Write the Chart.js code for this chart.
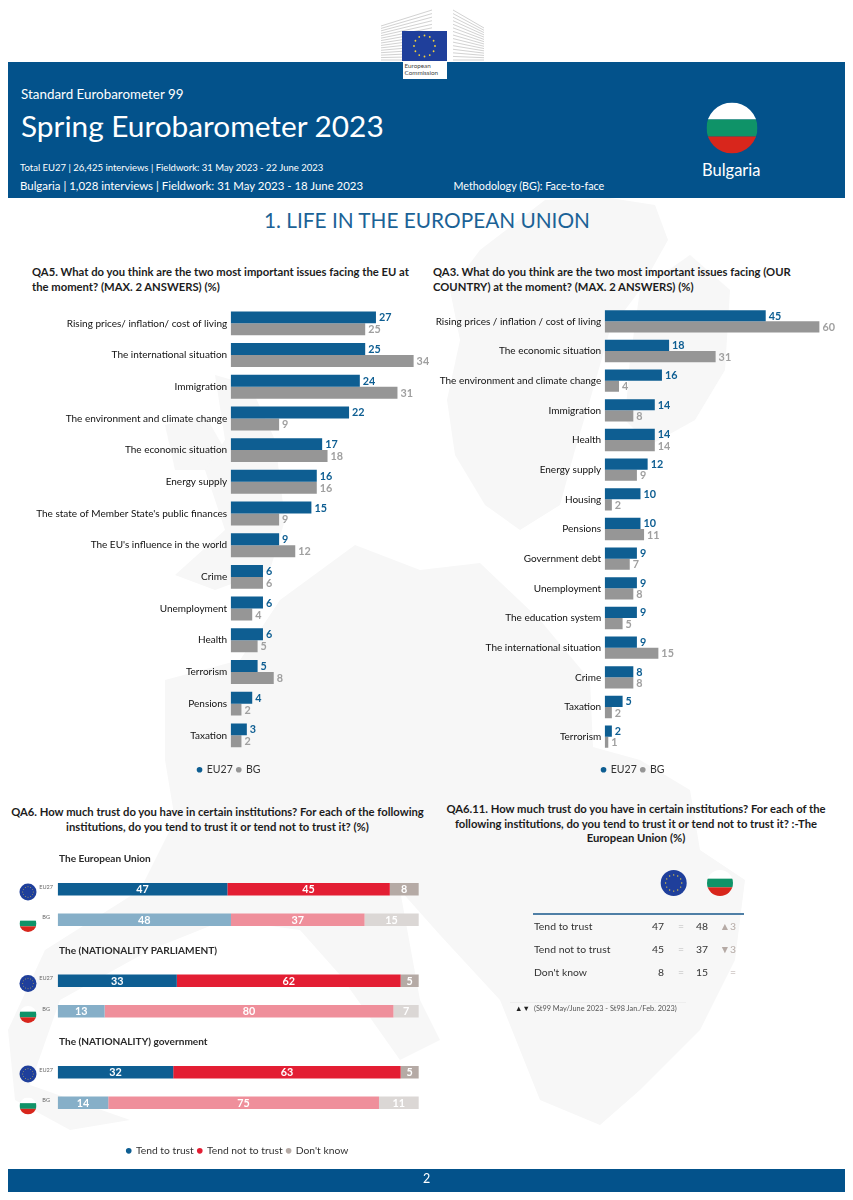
<!DOCTYPE html>
<html>
<head>
<meta charset="utf-8">
<title>Spring Eurobarometer 2023 - Bulgaria</title>
<script src="https://cdn.jsdelivr.net/npm/chart.js@4/dist/chart.umd.min.js"></script>
<style>
  html, body { margin: 0; padding: 0; background: #fff; overflow: hidden; }
  #page { position: relative; width: 853px; height: 1200px; overflow: hidden; font-family: Lato, sans-serif; color: #222; }
  #page > * { position: absolute; }
  canvas { display: block; }
  .band { left: 8px; width: 836.5px; background: #03528b; }
  .w { color: #fff; white-space: nowrap; line-height: 1; }
  .q { font-weight: 700; font-size: 11.25px; line-height: 14.6px; color: #1c1c1c; }
  .c { text-align: center; }
  .t { white-space: nowrap; line-height: 1; font-size: 10.4px; color: #333; }
</style>
</head>
<body>
<div id="page">
  <svg id="map" width="853" height="1200" style="left:0;top:0"></svg>
  <svg id="logo" width="110" height="62" style="left:376px;top:0"></svg>

  <div class="band" style="top:61.5px;height:136px"></div>
  <div style="left:402px;top:31px;width:45px;height:30px;background:#1f3f9b" id="logoFlag"></div>
  <div style="left:402.5px;top:61px;width:44px;height:18px;background:#fff;font-size:6.3px;line-height:6.8px;padding:2px 0 0 2px;box-sizing:border-box;color:#444">European<br>Commission</div>

  <div class="w" style="left:21px;top:87.5px;font-size:13.4px">Standard Eurobarometer 99</div>
  <div class="w" style="left:21px;top:110.5px;font-size:29.8px">Spring Eurobarometer 2023</div>
  <div class="w" style="left:20px;top:163px;font-size:9.5px">Total EU27 | 26,425 interviews | Fieldwork: 31 May 2023 - 22 June 2023</div>
  <div class="w" style="left:20px;top:180px;font-size:11.43px">Bulgaria | 1,028 interviews | Fieldwork: 31 May 2023 - 18 June 2023</div>
  <div class="w" style="left:453.5px;top:180.5px;font-size:10.75px">Methodology (BG): Face-to-face</div>
  <svg id="flagTop" width="54" height="54" style="left:705px;top:101px"></svg>
  <div class="w" style="left:702px;top:162px;font-size:16.5px">Bulgaria</div>

  <div style="left:0;width:853px;top:206.5px;font-size:20.8px;line-height:26px;color:#1b6296;text-align:center;text-indent:1px">1. LIFE IN THE EUROPEAN UNION</div>

  <div class="q" style="left:32px;top:265px;width:390px">QA5. What do you think are the two most important issues facing the EU at the moment? (MAX. 2 ANSWERS) (%)</div>
  <div class="q" style="left:433px;top:265px;width:390px">QA3. What do you think are the two most important issues facing (OUR COUNTRY) at the moment? (MAX. 2 ANSWERS) (%)</div>
  <div class="q c" style="left:5px;top:805px;width:425px">QA6. How much trust do you have in certain institutions? For each of the following<br>institutions, do you tend to trust it or tend not to trust it? (%)</div>
  <div class="q c" style="left:436px;top:802px;width:400px">QA6.11. How much trust do you have in certain institutions? For each of the<br>following institutions, do you tend to trust it or tend not to trust it? :-The<br>European Union (%)</div>

  <canvas id="issuesEu" width="458" height="487" style="left:0;top:298px"></canvas>
  <canvas id="issuesBg" width="420" height="488" style="left:423px;top:297px"></canvas>
  <canvas id="trust" width="475" height="326" style="left:0;top:840px"></canvas>

  <div id="flags" style="left:0;top:0"></div>
  <div id="table" style="left:0;top:0"></div>

  <div class="band" style="top:1168.5px;height:23px"></div>
  <div class="w" style="left:0;width:853px;top:1173px;font-size:12.5px;text-align:center">2</div>
</div>

<script>
// QA5
const euIssues = ["Rising prices/ inflation/ cost of living", "The international situation", "Immigration",
  "The environment and climate change", "The economic situation", "Energy supply",
  "The state of Member State's public finances", "The EU's influence in the world", "Crime",
  "Unemployment", "Health", "Terrorism", "Pensions", "Taxation"];
const euIssuesEU27 = [27, 25, 24, 22, 17, 16, 15, 9, 6, 6, 6, 5, 4, 3];
const euIssuesBG = [25, 34, 31, 9, 18, 16, 9, 12, 6, 4, 5, 8, 2, 2];

// QA3
const bgIssues = ["Rising prices / inflation / cost of living", "The economic situation",
  "The environment and climate change", "Immigration", "Health", "Energy supply", "Housing", "Pensions",
  "Government debt", "Unemployment", "The education system", "The international situation", "Crime",
  "Taxation", "Terrorism"];
const bgIssuesEU27 = [45, 18, 16, 14, 14, 12, 10, 10, 9, 9, 9, 9, 8, 5, 2];
const bgIssuesBG = [60, 31, 4, 8, 14, 9, 2, 11, 7, 8, 5, 15, 8, 2, 1];

// QA6, the null rows are the institution headings
const trustRows = ["The European Union", "EU27", "BG", "The (NATIONALITY PARLIAMENT)", "EU27", "BG",
  "The (NATIONALITY) government", "EU27", "BG"];
const tendTrust = [null, 47, 48, null, 33, 13, null, 32, 14];
const tendNotTrust = [null, 45, 37, null, 62, 80, null, 63, 75];
const dontKnow = [null, 8, 15, null, 5, 7, null, 5, 11];

// QA6.11 table
const tableLabels = ["Tend to trust", "Tend not to trust", "Don't know"];
const tableEU27 = [47, 45, 8];
const tableBG = [48, 37, 15];
const tableBGChange = ["▲3", "▼3", "="];

const BLUE = "#0e5e92", GREY = "#969696";

Chart.defaults.font.family = "Lato, sans-serif";
Chart.defaults.animation = false;

// value written at the end of each bar (or inside it when stacked)
const barValues = {
  id: "barValues",
  afterDatasetsDraw(chart, args, opts) {
    const ctx = chart.ctx;
    ctx.save();
    ctx.textBaseline = "middle";
    ctx.font = "bold " + opts.size + "px Lato, sans-serif";
    chart.data.datasets.forEach((ds, d) => {
      chart.getDatasetMeta(d).data.forEach((bar, i) => {
        const v = ds.data[i];
        if (v === null) return;
        if (opts.inside) {
          ctx.textAlign = "center";
          ctx.fillStyle = "#fff";
          ctx.fillText(v, (bar.x + bar.base) / 2, bar.y + 0.5);
        } else {
          ctx.textAlign = "left";
          ctx.fillStyle = ds.labelColor;
          ctx.fillText(v, bar.x + 3, bar.y + 0.5);
        }
      });
    });
    ctx.restore();
  }
};

// institution headings and the tiny EU27 / BG marks of the trust chart
const rowHeadings = {
  id: "rowHeadings",
  afterDraw(chart) {
    const ctx = chart.ctx, y = chart.scales.y;
    ctx.save();
    ctx.textBaseline = "middle";
    trustRows.forEach((name, i) => {
      const py = y.getPixelForValue(i);
      if (tendTrust[i] === null) {
        ctx.font = "bold 10.1px Lato, sans-serif";
        ctx.fillStyle = "#2a2a2a";
        ctx.textAlign = "left";
        ctx.fillText(name, 59, py);
      } else {
        ctx.font = "5.6px Lato, sans-serif";
        ctx.fillStyle = "#666";
        ctx.textAlign = "right";
        ctx.fillText(name, name === "BG" ? 50 : 53, py - 2.5);
      }
    });
    ctx.restore();
  }
};

function issuesChart(id, labels, eu27, bg, axisWidth, xMax, gap) {
  return new Chart(document.getElementById(id), {
    type: "bar",
    data: {
      labels: labels,
      datasets: [
        { label: "EU27", data: eu27, backgroundColor: BLUE, labelColor: BLUE, categoryPercentage: 0.755, barPercentage: 1 },
        { label: "BG", data: bg, backgroundColor: GREY, labelColor: "#a0a0a0", categoryPercentage: 0.755, barPercentage: 1 }
      ]
    },
    options: {
      indexAxis: "y",
      responsive: false,
      scales: {
        x: {
          min: 0, max: xMax,
          grid: { display: false }, border: { display: false },
          ticks: { display: false },
          afterFit(s) { s.height = gap; }
        },
        y: {
          grid: { display: false, drawTicks: false }, border: { display: false },
          ticks: { color: "#111", font: { size: 10 }, padding: 3.5, autoSkip: false },
          afterFit(s) { s.width = axisWidth; }
        }
      },
      plugins: {
        tooltip: { enabled: false },
        barValues: { size: 10.8 },
        legend: {
          position: "bottom",
          labels: { usePointStyle: true, boxWidth: 4, boxHeight: 4, padding: 4, color: "#333", font: { size: 10.5 } }
        }
      }
    },
    plugins: [barValues]
  });
}

issuesChart("issuesEu", euIssues, euIssuesEU27, euIssuesBG, 230.7, 42.25, 9.3);
issuesChart("issuesBg", bgIssues, bgIssuesEU27, bgIssuesBG, 181.7, 66.6, 9);

// BG rows use the same colours, paler
const rowColor = (dark, pale) => c => (trustRows[c.dataIndex] === "BG" ? pale : dark);
const trustColors = [["#0e5e92", "#86afc8"], ["#e31e33", "#ef8f9b"], ["#b5aaa5", "#dbd7d5"]];

new Chart(document.getElementById("trust"), {
  type: "bar",
  data: {
    labels: trustRows,
    datasets: [
      { label: "Tend to trust", data: tendTrust, backgroundColor: rowColor(...trustColors[0]) },
      { label: "Tend not to trust", data: tendNotTrust, backgroundColor: rowColor(...trustColors[1]) },
      { label: "Don't know", data: dontKnow, backgroundColor: rowColor(...trustColors[2]) }
    ]
  },
  options: {
    indexAxis: "y",
    responsive: false,
    datasets: { bar: { categoryPercentage: 0.417, barPercentage: 1 } },
    layout: { padding: { top: 3.5 } },
    scales: {
      x: {
        stacked: true, min: 0, max: 115.6,
        grid: { display: false }, border: { display: false },
        ticks: { display: false },
        afterFit(s) { s.height = 23.7; }
      },
      y: {
        stacked: true,
        grid: { display: false, drawTicks: false }, border: { display: false },
        ticks: { display: false },
        afterFit(s) { s.width = 57.7; }
      }
    },
    plugins: {
      tooltip: { enabled: false },
      barValues: { size: 10.8, inside: true },
      legend: {
        position: "bottom",
        labels: {
          usePointStyle: true, boxWidth: 4, boxHeight: 4, padding: 4, color: "#333", font: { size: 10.3 },
          generateLabels: chart => chart.data.datasets.map((ds, i) => ({
            text: ds.label, fillStyle: trustColors[i][0], strokeStyle: trustColors[i][0],
            lineWidth: 0, pointStyle: "circle", datasetIndex: i, fontColor: "#333"
          }))
        }
      }
    }
  },
  plugins: [barValues, rowHeadings]
});

// --- decoration: flags, logo, faint map ---
function euFlag(cx, cy, r) {
  let s = `<circle cx="${cx}" cy="${cy}" r="${r}" fill="#1f3f9b"/>`;
  for (let i = 0; i < 12; i++) {
    const a = i * Math.PI / 6;
    s += `<circle cx="${cx + Math.cos(a) * r * 0.62}" cy="${cy + Math.sin(a) * r * 0.62}" r="${Math.max(r * 0.05, 0.45)}" fill="#f5d43a"/>`;
  }
  return s;
}
function bgFlag(cx, cy, r, white) {
  const id = "c" + Math.round(cx) + "_" + Math.round(cy);
  const h = 2 * r / 3, t = cy - r;
  return `<clipPath id="${id}"><circle cx="${cx}" cy="${cy}" r="${r}"/></clipPath><g clip-path="url(#${id})">` +
    `<rect x="${cx - r}" y="${t}" width="${2 * r}" height="${h}" fill="${white}"/>` +
    `<rect x="${cx - r}" y="${t + h}" width="${2 * r}" height="${h}" fill="#0f9368"/>` +
    `<rect x="${cx - r}" y="${t + 2 * h}" width="${2 * r}" height="${h}" fill="#d8261c"/></g>`;
}
document.getElementById("flagTop").innerHTML = bgFlag(27, 27, 25.5, "#fff");

let flagSvg = "";
[892, 983.5, 1074].forEach(y => { flagSvg += euFlag(28, y, 8.5); });
[923.5, 1014.5, 1106].forEach(y => { flagSvg += bgFlag(28, y, 8.5, "#fff"); });
flagSvg += euFlag(673.7, 883, 13) + bgFlag(720, 883, 13, "#fff");
document.getElementById("flags").innerHTML = `<svg width="853" height="1200" style="position:absolute;left:0;top:0">${flagSvg}</svg>`;

let starDots = "";
for (let i = 0; i < 12; i++) {
  const a = i * Math.PI / 6;
  starDots += `<circle cx="${22.5 + Math.cos(a) * 10.5}" cy="${15 + Math.sin(a) * 10.5}" r="0.9" fill="#f5d43a"/>`;
}
document.getElementById("logoFlag").innerHTML = `<svg width="45" height="30">${starDots}</svg>`;

let logoLines = "";
for (let i = 0; i < 15; i++) {
  const k = i / 14;
  logoLines += `<line x1="5" y1="${26 + 34 * k}" x2="56" y2="${10 + 50 * k}" stroke="#d2d2d2" stroke-width="1"/>`;
  logoLines += `<line x1="77" y1="${10 + 50 * k}" x2="108" y2="${28 + 32 * k}" stroke="#d2d2d2" stroke-width="1"/>`;
}
document.getElementById("logo").innerHTML = logoLines;

const land = [
  "M545,200 L610,198 L655,205 L668,240 L640,290 L610,330 L590,400 L575,450 L560,505 L520,530 L485,505 L455,455 L447,400 L460,340 L450,290 L480,250 Z",
  "M640,290 L690,255 L730,290 L725,370 L695,420 L650,445 L625,420 L630,360 Z",
  "M165,425 L205,415 L225,450 L215,470 L175,470 Z",
  "M215,375 L250,385 L275,440 L285,520 L270,570 L215,590 L175,575 L225,530 L205,470 L225,440 Z",
  "M280,600 L355,545 L420,570 L480,563 L540,620 L590,680 L593,747 L640,760 L690,790 L700,850 L745,880 L735,960 L700,1030 L640,1090 L600,1125 L540,1100 L500,1000 L440,935 L400,890 L420,1000 L440,1040 L400,1060 L340,975 L300,930 L225,920 L150,950 L60,1000 L30,1085 L130,1120 L70,1130 L15,1100 L8,1030 L45,950 L140,890 L175,820 L165,760 L165,680 L240,660 Z"
];
document.getElementById("map").innerHTML = land.map(d => `<path d="${d}" fill="#f7f7f7"/>`).join("");

// --- QA6.11 table ---
const rowY = [921, 944, 967];
let tableHtml = `<div style="position:absolute;left:533px;top:913px;width:211px;height:1.6px;background:#4f7fa6"></div>`;
const cell = (x, y, txt, color, align, w) =>
  `<div class="t" style="position:absolute;left:${x}px;top:${y}px;width:${w}px;text-align:${align};color:${color}">${txt}</div>`;
tableLabels.forEach((name, i) => {
  const y = rowY[i];
  tableHtml += cell(534, y, name, "#333", "left", 100);
  tableHtml += cell(634, y, tableEU27[i], "#333", "right", 30);
  tableHtml += cell(675, y, "=", "#bbb", "center", 12);
  tableHtml += cell(678, y, tableBG[i], "#333", "right", 30);
  tableHtml += cell(712, y, tableBGChange[i], "#b5aaa5", "right", 24);
});
tableHtml += `<div style="position:absolute;left:510px;top:1002px;width:176px;height:1px;background:#eee"></div>`;
tableHtml += `<div class="t" style="position:absolute;left:515px;top:1005px;font-size:7.5px;color:#222">▲▼</div>`;
tableHtml += `<div class="t" style="position:absolute;left:534px;top:1005px;font-size:7.35px;color:#555">(St99 May/June 2023 - St98 Jan./Feb. 2023)</div>`;
document.getElementById("table").innerHTML = tableHtml;
</script>
</body>
</html>
